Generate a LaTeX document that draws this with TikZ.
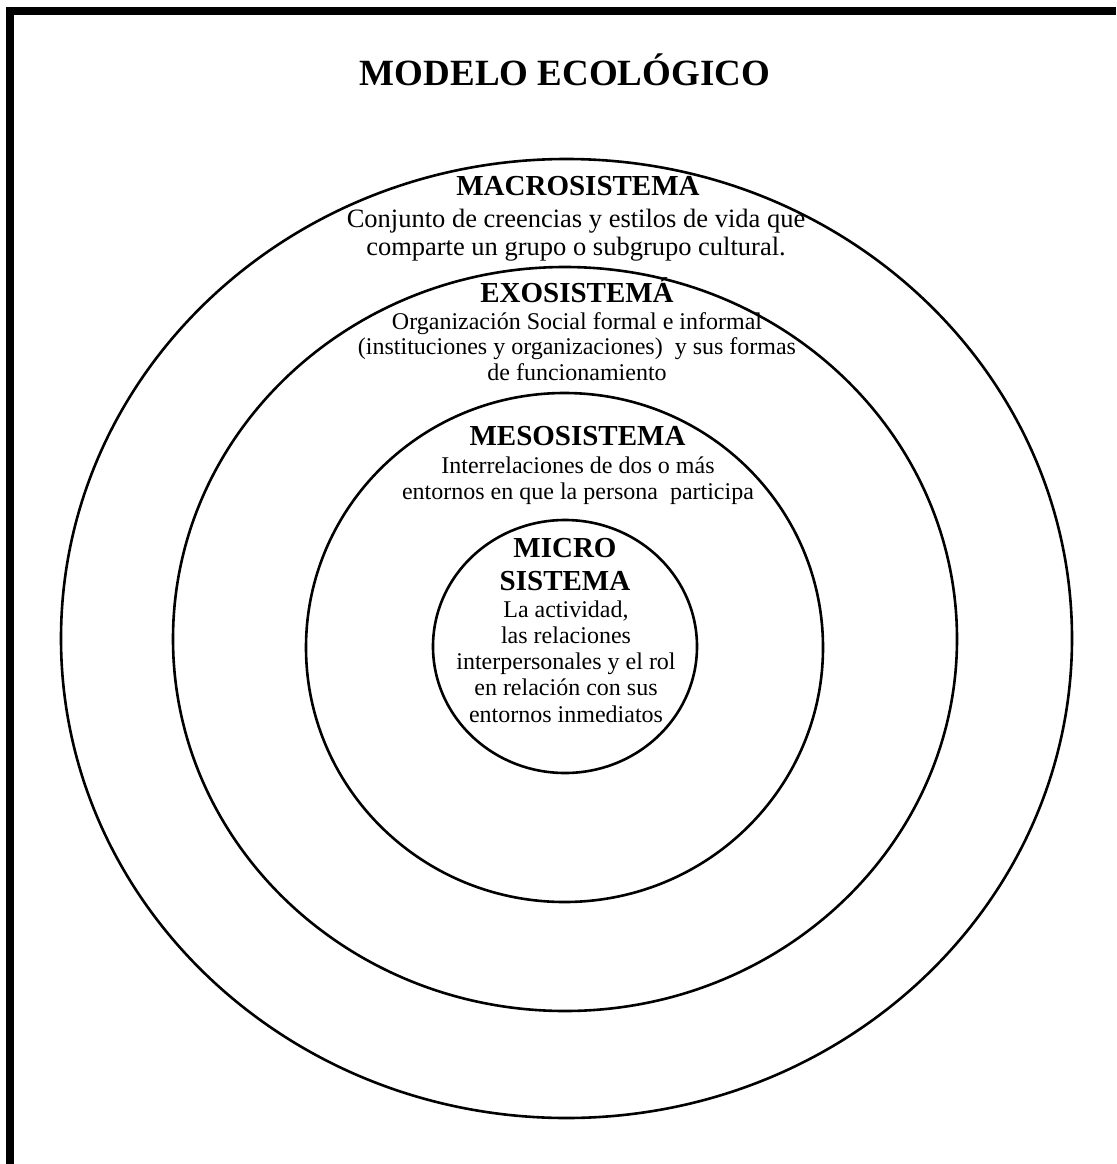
\documentclass[tikz,border=0pt]{standalone}
\usepackage{fontspec}
\setmainfont{Liberation Serif}
\usetikzlibrary{positioning}

\begin{document}
\begin{tikzpicture}[
    x=1pt, y=-1pt,
    ring/.style={draw=black, line width=2.6pt},
    frameline/.style={draw=black, line width=8pt, line join=miter},
    titletext/.style={font=\fontsize{37}{44}\selectfont\bfseries, anchor=base, inner sep=0pt},
    headtext/.style={font=\fontsize{29}{33}\selectfont\bfseries, anchor=base, align=center, inner sep=0pt},
    bodytext/.style={font=\fontsize{24}{25.5}\selectfont, anchor=base, align=center, inner sep=0pt},
    bigbodytext/.style={font=\fontsize{26.5}{28}\selectfont, anchor=base, align=center, inner sep=0pt}
]
    \useasboundingbox (0,0) rectangle (1116,1164);

    % Frame (only left and top edges show)
    \draw[frameline] (9.5,1164) -- (9.5,11) -- (1116,11);

    % Title
    \node[titletext] (title) at (565,85) {MODELO ECOLÓGICO};

    % === RINGS ===
    \draw[ring] (566.5,638.5) ellipse [x radius=505.5, y radius=479.5];
    \draw[ring] (565,639) ellipse [x radius=392, y radius=372];
    \draw[ring] (564.5,647.5) ellipse [x radius=258.5, y radius=254.5];
    \draw[ring] (565,646.5) ellipse [x radius=132, y radius=126.5];

    % (base anchor = baseline of the last line)
    % Macrosistema
    \node[headtext] (macrohead) at (578,195) {MACROSISTEMA};
    \node[bigbodytext] (macrobody) at (576,255) {Conjunto de creencias y estilos de vida que\\comparte un grupo o subgrupo cultural.};

    % Exosistema
    \node[headtext] (exohead) at (577,302) {EXOSISTEMÁ};
    \node[bodytext] (exobody) at (577,380) {Organización Social formal e informal\\(instituciones y organizaciones)\ \ y sus formas\\de funcionamiento};

    % Mesosistema
    \node[headtext] (mesohead) at (577.5,445) {MESOSISTEMA};
    \node[bodytext] (mesobody) at (578,499) {Interrelaciones de dos o más\\entornos en que la persona\ \ participa};

    % Microsistema
    \node[headtext] (microhead) at (565,590) {MICRO\\SISTEMA};
    \node[bodytext, font=\fontsize{24}{26.25}\selectfont] (microbody) at (566,722) {La actividad,\\las relaciones\\interpersonales y el rol\\en relación con sus\\entornos inmediatos};
\end{tikzpicture}
\end{document}
